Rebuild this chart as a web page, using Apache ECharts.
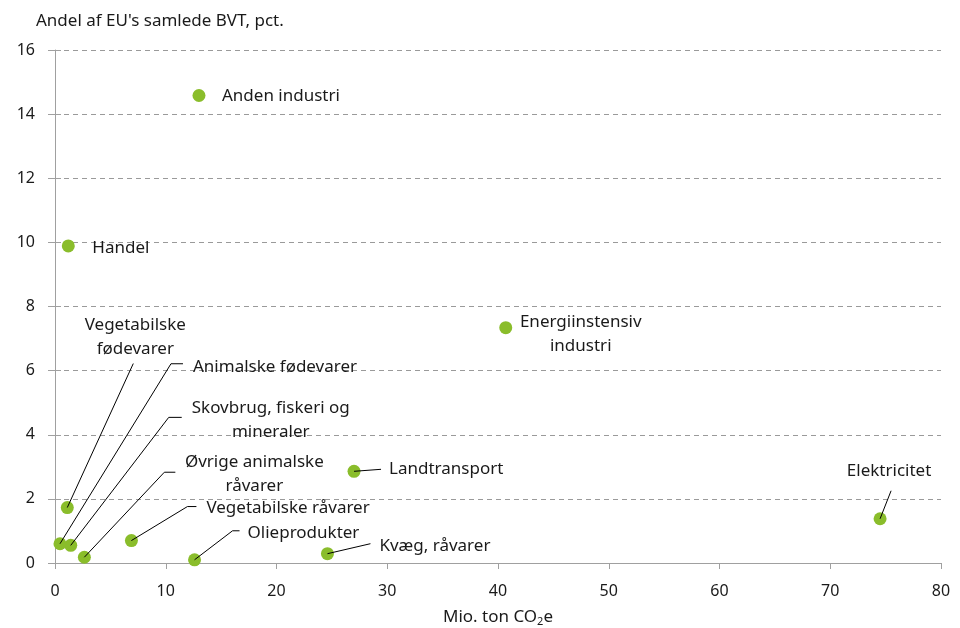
<!DOCTYPE html>
<html><head><meta charset="utf-8">
<script src="https://cdn.jsdelivr.net/npm/echarts@6/dist/echarts.min.js"></script>
<style>html,body{margin:0;padding:0;background:#fff}#c{width:960px;height:628px}</style>
</head><body><div id="c"></div>
<script>
// ---- data ----
var names = ['Anden industri','Handel','Energiinstensiv\nindustri','Landtransport','Elektricitet','Kvæg, råvarer','Olieprodukter','Vegetabilske råvarer','Øvrige animalske\nråvarer','Skovbrug, fiskeri og\nmineraler','Animalske fødevarer','Vegetabilske\nfødevarer'];
var emission = [13.0, 1.2, 40.7, 27.0, 74.5, 24.6, 12.6, 6.9, 2.65, 1.42, 0.45, 1.11];
var shareBVT = [14.58, 9.89, 7.34, 2.86, 1.38, 0.29, 0.10, 0.70, 0.18, 0.55, 0.60, 1.73];
var xTicks = [0,10,20,30,40,50,60,70,80];
var yTicks = [0,2,4,6,8,10,12,14,16];

// ---- label layout (pixel offsets from point; style only) ----
var layouts = [
  {tx:23, ty:1, align:'left', line:null},
  {tx:24, ty:2, align:'left', line:null},
  {tx:75, ty:6, align:'center', line:null},
  {tx:35, ty:-2, align:'left', line:[[0,0],[27,-2]]},
  {tx:9, ty:-48, align:'center', line:[[0,0],[11,-28]]},
  {tx:52, ty:-8, align:'left', line:[[0,0],[43,-10]]},
  {tx:53, ty:-27, align:'left', line:[[0,0],[38,-29],[45,-29]]},
  {tx:75, ty:-32, align:'left', line:[[0,0],[56,-34],[65,-34]]},
  {tx:170, ty:-83.5, align:'center', line:[[0,0],[80,-85],[91,-85]]},
  {tx:200, ty:-125.5, align:'center', line:[[0,0],[98,-128],[111,-128]]},
  {tx:133, ty:-177, align:'left', line:[[0,0],[111,-180],[123,-180]]},
  {tx:68, ty:-170, align:'center', line:[[0,0],[66,-144]]}
];

var FONT = '"Noto Sans", "Open Sans", sans-serif';
var TXT = '#1a1a1a';
var pts = emission.map(function(v,i){return [v, shareBVT[i]];});

var chart = echarts.init(document.getElementById('c'));
chart.setOption({
  animation:false,
  backgroundColor:'#fff',
  title:{text:"Andel af EU's samlede BVT, pct.", left:31, top:8,
    textStyle:{fontFamily:FONT, fontSize:17, fontWeight:'normal', color:TXT}},
  grid:{left:55, right:19, top:50, bottom:65, containLabel:false, outerBoundsMode:'none'},
  xAxis:{type:'value', min:xTicks[0], max:xTicks[xTicks.length-1], interval:10,
    name:'Mio. ton CO{sub|2}e', nameLocation:'middle', nameGap:44,
    nameTextStyle:{fontFamily:FONT, fontSize:17, color:TXT,
      rich:{sub:{fontFamily:FONT, fontSize:11, verticalAlign:'bottom', padding:[9,0,0,0], color:TXT}}},
    axisLine:{show:true, lineStyle:{color:'#a0a0a0', width:1}},
    axisTick:{show:true, length:6, lineStyle:{color:'#a0a0a0'}},
    axisLabel:{fontFamily:FONT, fontSize:16, color:TXT, margin:20},
    splitLine:{show:false}},
  yAxis:[{type:'value', min:yTicks[0], max:yTicks[yTicks.length-1], interval:2,
    axisLine:{show:true, lineStyle:{color:'#a0a0a0', width:1}},
    axisTick:{show:true, length:7, lineStyle:{color:'#a0a0a0'}},
    axisLabel:{fontFamily:FONT, fontSize:16, color:TXT, margin:20},
    splitLine:{show:true, lineStyle:{color:'#9a9a9a', type:[5,4], width:1}}},
   {type:'value', position:'left', min:yTicks[0], max:yTicks[yTicks.length-1], interval:2,
    axisLine:{show:false}, axisLabel:{show:false}, splitLine:{show:false},
    axisTick:{show:true, inside:true, length:6, lineStyle:{color:'#a0a0a0'}}}],
  series:[
    {type:'scatter', data:pts, symbolSize:13, itemStyle:{color:'#8abd2b', opacity:1}, z:3},
    {type:'custom', data:pts, z:4, silent:true,
      renderItem:function(params, api){
        var i = params.dataIndex;
        var p = api.coord([api.value(0), api.value(1)]);
        var L = layouts[i];
        var children = [];
        if (L.line){
          children.push({type:'polyline', shape:{points:L.line.map(function(d){return [p[0]+d[0], p[1]+d[1]];})},
            style:{stroke:'#000', lineWidth:1, fill:null}});
        }
        children.push({type:'text', style:{text:names[i], x:p[0]+L.tx, y:p[1]+L.ty,
          align:L.align, verticalAlign:'middle', fontFamily:FONT, fontSize:17, lineHeight:24, fill:TXT}});
        return {type:'group', children:children};
      }}
  ]
});
</script></body></html>
